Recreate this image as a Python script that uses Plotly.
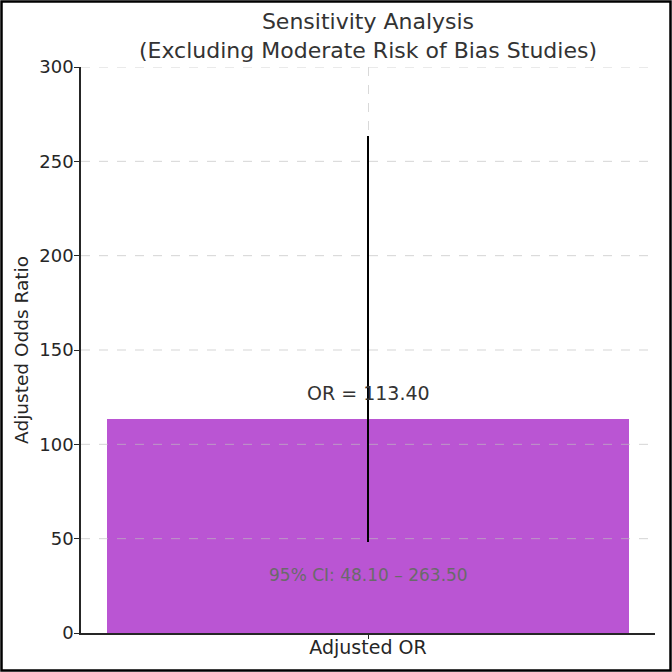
import plotly.graph_objects as go

categories = ["Adjusted OR"]
or_values = [113.40]
ci_low = [48.10]
ci_high = [263.50]
y_ticks = [0, 50, 100, 150, 200, 250, 300]
title_text = "Sensitivity Analysis<br>(Excluding Moderate Risk of Bias Studies)"

W, H = 672, 672
ML, MR, MT, MB = 81, 17, 67, 39
pw = W - ML - MR
ph = H - MT - MB

fig = go.Figure()
fig.add_trace(go.Bar(
    x=categories, y=or_values, width=0.8,
    marker=dict(color="#BA55D3", line=dict(width=0)),
    error_y=dict(type="data", symmetric=False,
                 array=[h - v for h, v in zip(ci_high, or_values)],
                 arrayminus=[v - l for v, l in zip(or_values, ci_low)],
                 color="black", thickness=2.4, width=0),
    showlegend=False, hoverinfo="skip",
))

# horizontal dashed grid drawn over the bar (as in the reference)
for t in y_ticks[1:]:
    fig.add_shape(type="line", xref="paper", yref="y", x0=0, x1=1, y0=t, y1=t,
                  line=dict(color="rgba(190,190,190,0.65)", width=1, dash="dash"),
                  layer="above")

for c, v, lo, hi in zip(categories, or_values, ci_low, ci_high):
    fig.add_annotation(x=c, y=v, text=f"OR = {v:.2f}", showarrow=False,
                       yanchor="bottom", yshift=13,
                       font=dict(size=19, color="#333333", family="DejaVu Sans"))
    fig.add_annotation(x=c, y=30.5, text=f"95% CI: {lo:.2f} – {hi:.2f}", showarrow=False,
                       yanchor="middle",
                       font=dict(size=17, color="#6a6a6a", family="DejaVu Sans"))

# title as annotation (two lines)
fig.add_annotation(xref="paper", yref="paper", x=0.5, y=1 + (MT - 35.5) / ph,
                   xanchor="center", yanchor="middle", showarrow=False,
                   text=title_text,
                   font=dict(size=22, color="#333333", family="DejaVu Sans"))

# figure border
fig.add_shape(type="rect", xref="paper", yref="paper",
              x0=(-ML + 1.5) / pw, x1=1 + (MR - 1.5) / pw,
              y0=(-MB + 1.5) / ph, y1=1 + (MT - 1.5) / ph,
              line=dict(color="black", width=2.5), layer="above")

fig.update_layout(
    width=W, height=H,
    margin=dict(l=ML, r=MR, t=MT, b=MB, autoexpand=False),
    paper_bgcolor="white", plot_bgcolor="white",
    font=dict(family="DejaVu Sans", color="#262626", size=19),
    bargap=0,
)
fig.update_xaxes(range=[-0.44, 0.44], showline=True, linecolor="#262626", linewidth=1.5,
                 ticks="outside", ticklen=4, tickcolor="#262626", automargin=False,
                 ticklabelstandoff=-8,
                 showgrid=True, gridcolor="#d9d9d9", griddash="dash", gridwidth=1,
                 tickfont=dict(size=19), zeroline=False, mirror=False)
fig.update_yaxes(range=[0, 300], tickvals=y_ticks, showline=True, linecolor="#262626", linewidth=1.5,
                 ticks="outside", ticklen=5, tickcolor="#262626", ticklabelstandoff=-3,
                 showgrid=False, zeroline=False, mirror=False, automargin=False,
                 tickfont=dict(size=18),
                 title=dict(text="Adjusted Odds Ratio", font=dict(size=18.5), standoff=6))

fig.write_html("out.html")
